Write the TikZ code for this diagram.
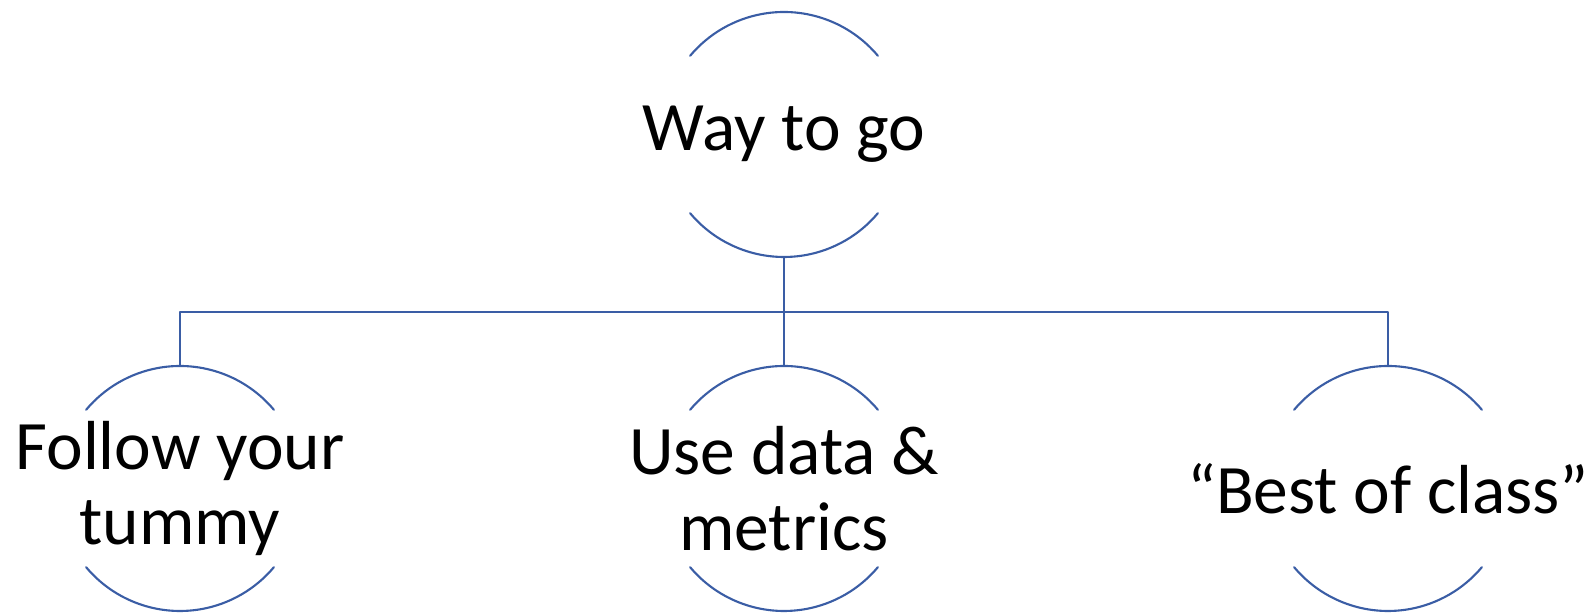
\documentclass[tikz,border=0pt]{standalone}
\usepackage{fontspec}
\setmainfont{Carlito}
\usetikzlibrary{positioning, calc}
\definecolor{rimblue}{HTML}{3A5DA5}
\tikzset{
  bubble/.style={rectangle, minimum width=4.9cm, minimum height=4.9cm, inner sep=0pt, outer sep=0pt,
    align=center, font=\fontsize{39.5pt}{43pt}\selectfont},
  rim/.style={draw=rimblue, line width=1.2pt},
}

\begin{document}
\begin{tikzpicture}[line cap=round, line join=round]
  \useasboundingbox (0,0) rectangle (31.8,12.28);

  % Top - way to go
  \node[bubble] (way) at (15.68, 9.59) {Way to go};

  % Children
  \node[bubble] (follow) at (3.6, 2.51) {Follow your\\tummy};
  \node[bubble] (data) at (15.68, 2.51) {Use data \&\\metrics};
  \node[bubble] (best) at (27.76, 2.51) {“Best of class”};

  % Open circles: only top and bottom arcs
  \foreach \n in {way, follow, data, best} {
    \draw[rim] (\n.center) ++(40:2.45cm) arc[start angle=40, end angle=140, radius=2.45cm];
    \draw[rim] (\n.center) ++(220:2.45cm) arc[start angle=220, end angle=320, radius=2.45cm];
  }

  % Connectors
  \draw[rim, line cap=butt] (way.south) -- ++(0,-1.1) coordinate (hub) -| (follow.north);
  \draw[rim, line cap=butt] (hub) -| (best.north);
  \draw[rim, line cap=butt] (way.south) -- (data.north);
\end{tikzpicture}
\end{document}
